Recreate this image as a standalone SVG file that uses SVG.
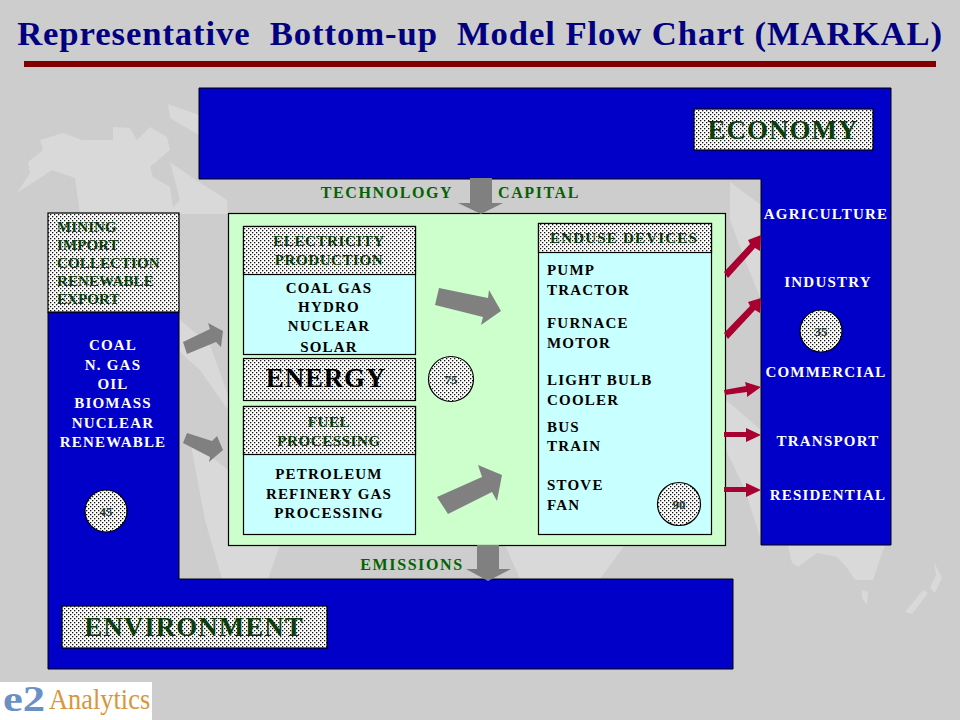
<svg xmlns="http://www.w3.org/2000/svg" width="960" height="720" viewBox="0 0 960 720">
<style>
text{font-family:"Liberation Serif","Times New Roman",serif;font-weight:bold;text-anchor:middle}
.b{fill:#0000c8;stroke:#000;stroke-width:1}
.d{fill:url(#dots);stroke:#000;stroke-width:1.2}
.c{fill:#c8ffff;stroke:#000;stroke-width:1.2}
.w{fill:#fff;font-size:15px;letter-spacing:1.2px}
.k{fill:#000;font-size:15px;letter-spacing:1.200px}
.g{fill:#0d3d0d;font-size:15px;letter-spacing:.6px}
.m{letter-spacing:.1px}
.e{letter-spacing:1.2px}
.l{text-anchor:start}
.t{fill:#006400;font-size:16px;letter-spacing:1.600px}
.h{fill:#0d3d0d;font-size:27px;letter-spacing:1px}
.big{fill:#000;font-size:27px;letter-spacing:.8px}
.n{fill:#243a3a;font-size:13px}
.ga{fill:#808080}
.ra{fill:#a80030}
.map{fill:#d9d9d9}
</style>
<defs>
<pattern id="dots" width="4" height="4" patternUnits="userSpaceOnUse"><rect width="4" height="4" fill="#fff"/><rect width="1.300" height="1.300" fill="#111"/><rect x="2" y="2" width="1.300" height="1.300" fill="#111"/></pattern>
</defs>
<rect width="960" height="720" fill="#cdcdcd"/>
<g id="map">
<path class="map" d="M17 193L30 173L28 162L43 150L40 140L63 133L82 140L113 140L113 127L130 128L137 140L150 127L167 137L170 150L150 167L153 177L170 187L173 207L180 200L170 162L193 178L227 200L228 214L80 214L75 178L52 170Z"/>
<path class="map" d="M168 104L199 115V135L170 118Z"/>
<path class="map" d="M180 320L210 345L228 395V410L200 370L180 352Z"/>
<path class="map" d="M190 440L228 470V545H280L268 579H222L205 520Z"/>
<path class="map" d="M505 545H625L600 579H520Z"/>
<path class="map" d="M730 182L761 205V300L745 260L730 220Z"/>
<path class="map" d="M726 400L761 430V540L745 490L726 450Z"/>
<path class="map" d="M788 546L792 563L798 567L817 553L837 557L847 568L855 580L873 580L883 550L885 546Z"/>
<path class="map" d="M862 590L868 592L867 605L862 598Z"/>
<path class="map" d="M934 562L942 578L935 593L930 588L936 575ZM923 590L928 593L912 614L905 612Z"/>
</g>
<text x="480" y="45" style="fill:#000080;font-size:34.700px;letter-spacing:.9px" xml:space="preserve">Representative  Bottom-up  Model Flow Chart (MARKAL)</text>
<rect x="24" y="61" width="912" height="6" fill="#800000"/>
<g id="economy">
<path class="b" d="M199 88H891V545H761V179H199Z"/>
<rect class="d" x="694" y="109" width="179" height="41"/>
<text class="h" x="783" y="139">ECONOMY</text>
<text class="w" x="826" y="219">AGRICULTURE</text>
<text class="w" x="828" y="287">INDUSTRY</text>
<text class="w" x="826" y="377">COMMERCIAL</text>
<text class="w" x="828" y="446">TRANSPORT</text>
<text class="w" x="828" y="500">RESIDENTIAL</text>
</g>
<g id="badge35"><circle class="d" cx="821" cy="331" r="21"/><text class="n" x="821" y="336">35</text></g>
<g id="environment">
<path class="b" d="M48 312H179V579H733V669H48Z"/>
<rect class="d" x="62" y="606" width="265" height="42"/>
<text class="h" x="194" y="636">ENVIRONMENT</text>
</g>
<g id="resources">
<rect class="d" x="48" y="213" width="131" height="99"/>
<text class="g l m" x="57" y="232">MINING</text>
<text class="g l m" x="57" y="250">IMPORT</text>
<text class="g l m" x="57" y="268">COLLECTION</text>
<text class="g l m" x="57" y="286">RENEWABLE</text>
<text class="g l m" x="57" y="304">EXPORT</text>
<text class="w" x="113" y="350">COAL</text>
<text class="w" x="113" y="370">N. GAS</text>
<text class="w" x="113" y="389">OIL</text>
<text class="w" x="113" y="408">BIOMASS</text>
<text class="w" x="113" y="428">NUCLEAR</text>
<text class="w" x="113" y="447">RENEWABLE</text>
</g>
<g id="badge45"><circle class="d" cx="106" cy="511" r="21"/><text class="n" x="106" y="516">45</text></g>
<g id="system"><rect x="228.500" y="213.500" width="497" height="332" fill="#ccffcc" stroke="#000" stroke-width="1.200"/></g>
<g id="electricity">
<rect class="c" x="243.500" y="226.500" width="172" height="128"/>
<rect class="d" x="243.500" y="226.500" width="172" height="48"/>
<text class="g" x="329" y="246">ELECTRICITY</text>
<text class="g" x="329" y="265">PRODUCTION</text>
<text class="k" x="329" y="293">COAL GAS</text>
<text class="k" x="329" y="312">HYDRO</text>
<text class="k" x="329" y="331">NUCLEAR</text>
<text class="k" x="329" y="352">SOLAR</text>
</g>
<g id="energy">
<rect class="d" x="243.500" y="358.500" width="172" height="42"/>
<text class="big" x="326" y="387">ENERGY</text>
</g>
<g id="fuel">
<rect class="c" x="243.500" y="406.500" width="172" height="128"/>
<rect class="d" x="243.500" y="406.500" width="172" height="48"/>
<text class="g" x="329" y="427">FUEL</text>
<text class="g" x="329" y="446">PROCESSING</text>
<text class="k" x="329" y="479">PETROLEUM</text>
<text class="k" x="329" y="499">REFINERY GAS</text>
<text class="k" x="329" y="518">PROCESSING</text>
</g>
<g id="badge75"><circle class="d" cx="451" cy="379" r="22.500"/><text class="n" x="451" y="384">75</text></g>
<g id="enduse">
<rect class="c" x="538.500" y="223.500" width="173" height="311"/>
<rect class="d" x="538.500" y="223.500" width="173" height="29"/>
<text class="g e" x="624" y="243">ENDUSE DEVICES</text>
<text class="k l" x="547" y="275">PUMP</text>
<text class="k l" x="547" y="295">TRACTOR</text>
<text class="k l" x="547" y="328">FURNACE</text>
<text class="k l" x="547" y="348">MOTOR</text>
<text class="k l" x="547" y="385">LIGHT BULB</text>
<text class="k l" x="547" y="405">COOLER</text>
<text class="k l" x="547" y="432">BUS</text>
<text class="k l" x="547" y="451">TRAIN</text>
<text class="k l" x="547" y="490">STOVE</text>
<text class="k l" x="547" y="510">FAN</text>
</g>
<g id="badge90"><circle class="d" cx="679" cy="504" r="21.500"/><text class="n" x="679" y="509">90</text></g>
<text class="t" x="387" y="198">TECHNOLOGY</text>
<text class="t" x="539" y="198">CAPITAL</text>
<text class="t" x="412" y="570">EMISSIONS</text>
<g id="connectors">
<path class="ga" d="M470 178H492V203H503L481 214L458 203H470Z"/>
<path class="ga" d="M477 545H499V569H511L488 581L466 569H477Z"/>
<path class="ga" d="M183 342L210 329L208 323L223 331L221 347L216 342L187 354Z"/>
<path class="ga" d="M187 433L212 441L217 436L223 450L209 462L210 457L183 443Z"/>
<path class="ga" d="M439 288L488 298L489 290L501 311L481 325L483 317L435 305Z"/>
<path class="ga" d="M437 497L482 477L478 465L502 475L497 501L492 492L448 514Z"/>
<g class="ra">
<path d="M724 272L750 244L748 240L761 235L760 251L755 248L728 278Z"/>
<path d="M724 333L750 306L748 302L761 298L760 313L755 310L728 339Z"/>
<path d="M724 390L746 386L745 382L761 387L747 397L747 392L725 395Z"/>
<path d="M724 432H746V428L761 435L746 442V437H724Z"/>
<path d="M724 487H746V483L761 490L746 497V492H724Z"/>
</g>
</g>
<g id="logo">
<rect x="0" y="682" width="152" height="38" fill="#fff"/>
<text x="0" y="0" style="text-anchor:start;fill:#6a90c4;font-size:36px" transform="translate(3 711) scale(1.240 1)">e2</text>
<text x="0" y="0" style="text-anchor:start;fill:#d9963a;font-size:30px;font-weight:normal" transform="translate(49 709) scale(.88 1)">Analytics</text>
</g>
</svg>
